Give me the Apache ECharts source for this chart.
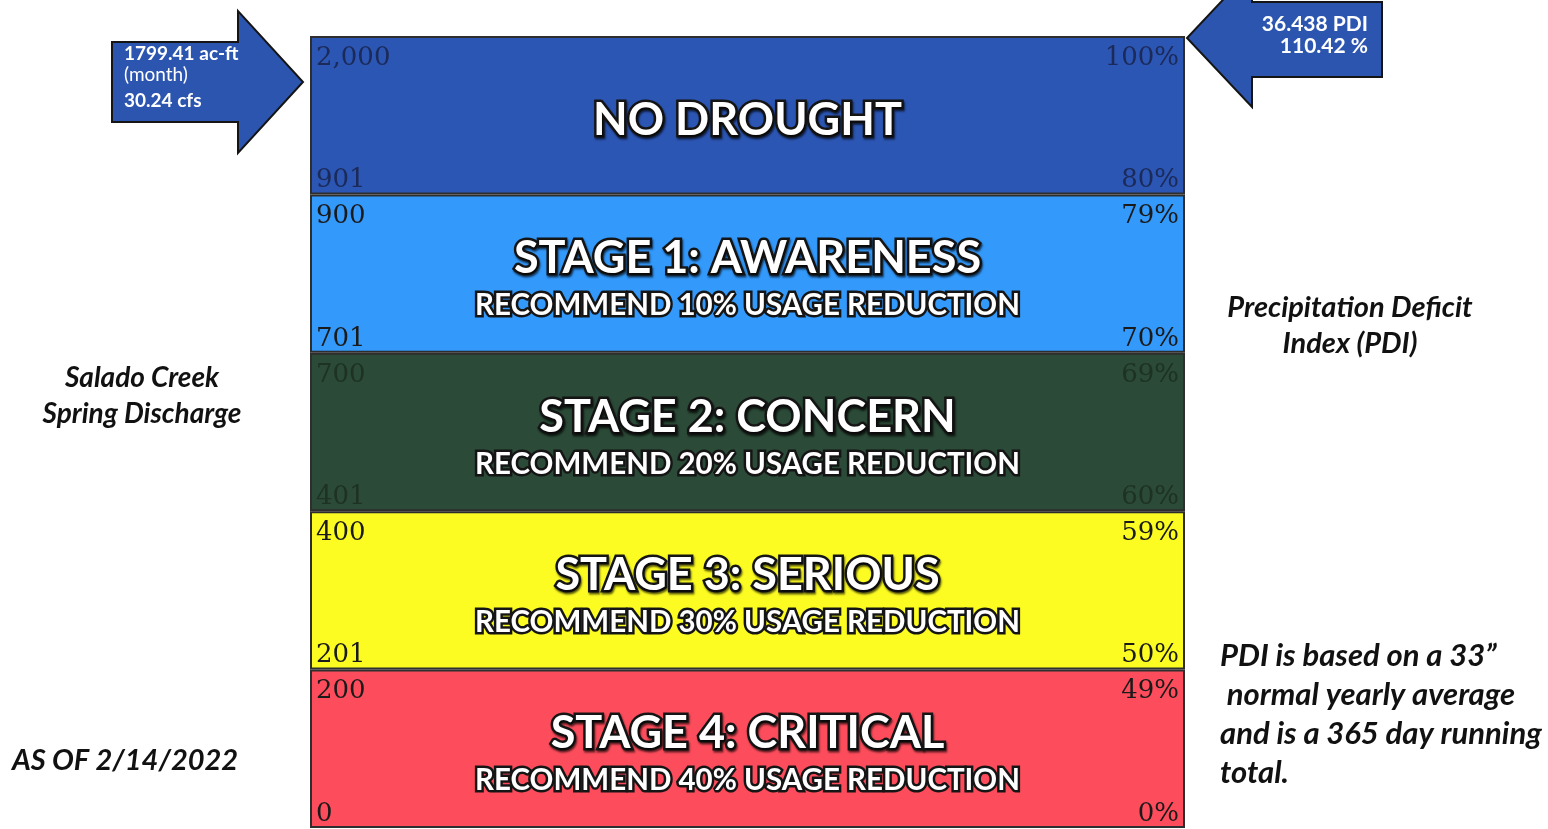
<!DOCTYPE html>
<head>
    <meta charset="UTF-8">
    <title>Salado Creek Drought Stages</title>
    <script src="https://cdn.jsdelivr.net/npm/echarts@6/dist/echarts.min.js"></script>
    <style>
        html, body { margin: 0; padding: 0; background: #fff; }
        #main { width: 1548px; height: 829px; }
    </style>
</head>
<body>
    <div id="main"></div>
    <script type="text/javascript">
        // drought stages, top to bottom
        var stages = ['NO DROUGHT', 'STAGE 1: AWARENESS', 'STAGE 2: CONCERN', 'STAGE 3: SERIOUS', 'STAGE 4: CRITICAL'];
        var reductions = ['', 'RECOMMEND 10% USAGE REDUCTION', 'RECOMMEND 20% USAGE REDUCTION', 'RECOMMEND 30% USAGE REDUCTION', 'RECOMMEND 40% USAGE REDUCTION'];
        // each stage takes one equal slot
        var slots = [1, 1, 1, 1, 1];
        // spring discharge (ac-ft) range, left side
        var dischargeHigh = ['2,000', '900', '700', '400', '200'];
        var dischargeLow = ['901', '701', '401', '201', '0'];
        // PDI range, right side
        var pdiHigh = ['100%', '79%', '69%', '59%', '49%'];
        var pdiLow = ['80%', '70%', '60%', '50%', '0%'];
        // current readings shown in the arrows
        var dischargeNow = ['1799.41 ac-ft', '(month)', '30.24 cfs'];
        var pdiNow = ['36.438 PDI', '110.42 %'];
        var sideNotes = {
            left: 'Salado Creek\nSpring Discharge',
            right: 'Precipitation Deficit\nIndex (PDI)',
            pdiNote: 'PDI is based on a 33\u201d\n normal yearly average\nand is a 365 day running\ntotal.',
            asOf: 'AS OF 2/14/2022'
        };

        var bandColors = ['#2c56b4', '#3399fb', '#2b4a37', '#fcfc22', '#fd4d5c'];
        var rangeColors = ['#1b2a58', '#1a1a1a', '#1d3125', '#1a1a1a', '#1a1a1a'];

        var myChart = echarts.init(document.getElementById('main'));

        function cornerSeries(texts, pos, dy) {
            return {
                type: 'bar',
                barWidth: '100%',
                barGap: '-100%',
                silent: true,
                itemStyle: { color: 'rgba(0,0,0,0)' },
                label: {
                    show: true,
                    position: pos,
                    distance: 6,
                    offset: [0, dy],
                    fontFamily: 'DejaVu Serif',
                    fontSize: 26,
                    formatter: function (p) { return texts[p.dataIndex]; }
                },
                data: slots.map(function (v, i) {
                    return { value: v, label: { color: rangeColors[i] } };
                })
            };
        }

        var titleFont = 'Lato';

        myChart.setOption({
            animation: false,
            grid: { left: 310, right: 363, top: 36, bottom: 1 },
            xAxis: { type: 'value', min: 0, max: 1, show: false },
            yAxis: { type: 'category', data: stages, inverse: true, show: false },
            series: [
                {
                    type: 'bar',
                    barWidth: '100%',
                    silent: true,
                    data: slots.map(function (v, i) {
                        return { value: v, itemStyle: { color: bandColors[i] } };
                    }),
                    itemStyle: { borderColor: '#2e2e2e', borderWidth: 2 },
                    label: {
                        show: true,
                        position: 'inside',
                        offset: [0, 5],
                        formatter: function (p) {
                            var i = p.dataIndex;
                            return '{t|' + stages[i] + '}' + (reductions[i] ? '\n{s|' + reductions[i] + '}' : '');
                        },
                        rich: {
                            t: {
                                fontFamily: titleFont, fontWeight: 'bold', fontSize: 45,
                                color: '#fff', textBorderColor: '#151515', textBorderWidth: 5,
                                textShadowColor: 'rgba(0,0,0,0.6)', textShadowBlur: 2, textShadowOffsetX: 1, textShadowOffsetY: 2,
                                lineHeight: 54
                            },
                            s: {
                                fontFamily: titleFont, fontWeight: 'bold', fontSize: 29.5,
                                color: '#fff', textBorderColor: '#151515', textBorderWidth: 5,
                                lineHeight: 40
                            }
                        }
                    }
                },
                cornerSeries(dischargeHigh, 'insideTopLeft', 3),
                cornerSeries(dischargeLow, 'insideBottomLeft', 5),
                cornerSeries(pdiHigh, 'insideTopRight', 3),
                cornerSeries(pdiLow, 'insideBottomRight', 5)
            ],
            graphic: [
                {
                    type: 'polygon',
                    shape: { points: [[112, 42], [238, 42], [238, 11], [303, 82], [238, 153], [238, 122], [112, 122]] },
                    style: { fill: '#2c55b0', stroke: '#151515', lineWidth: 2 }
                },
                {
                    type: 'text', left: 124, top: 44,
                    style: { text: dischargeNow[0], fill: '#fff', font: 'bold 19px Lato' }
                },
                {
                    type: 'text', left: 124, top: 65,
                    style: { text: dischargeNow[1], fill: '#fff', font: '19px Lato' }
                },
                {
                    type: 'text', left: 124, top: 91,
                    style: { text: dischargeNow[2], fill: '#fff', font: 'bold 19px Lato' }
                },
                {
                    type: 'polygon',
                    shape: { points: [[1382, 2], [1252, 2], [1252, -31], [1187, 38], [1252, 107], [1252, 77], [1382, 77]] },
                    style: { fill: '#2c55b0', stroke: '#151515', lineWidth: 2 }
                },
                {
                    type: 'text', right: 1548 - 1368, top: 14,
                    style: { text: pdiNow[0], fill: '#fff', font: 'bold 21px Lato', align: 'right' }
                },
                {
                    type: 'text', right: 1548 - 1368, top: 36,
                    style: { text: pdiNow[1], fill: '#fff', font: 'bold 21px Lato', align: 'right' }
                },
                {
                    type: 'text', x: 142, y: 360,
                    style: { text: sideNotes.left, fill: '#111', font: 'italic bold 28px Lato', align: 'center', lineHeight: 36 }
                },
                {
                    type: 'text', x: 1350, y: 290,
                    style: { text: sideNotes.right, fill: '#111', font: 'italic bold 29px Lato', align: 'center', lineHeight: 36 }
                },
                {
                    type: 'text', x: 1220, y: 636,
                    style: { text: sideNotes.pdiNote, fill: '#111', font: 'italic bold 31px Lato', align: 'left', lineHeight: 39 }
                },
                {
                    type: 'text', x: 12, y: 746,
                    style: { text: sideNotes.asOf, fill: '#111', font: 'italic bold 29px Lato', align: 'left' }
                }
            ]
        });
    </script>
</body>
